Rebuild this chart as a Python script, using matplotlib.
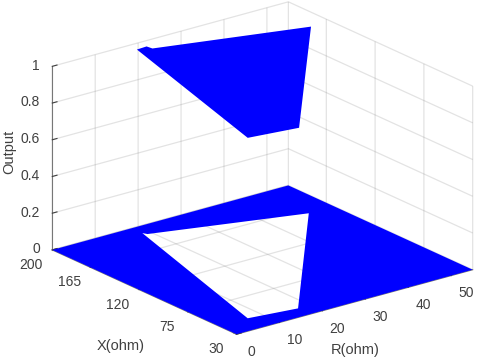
import numpy as np
import matplotlib
matplotlib.use('Agg')
import matplotlib.pyplot as plt
from mpl_toolkits.mplot3d.art3d import Poly3DCollection

plt.rcParams['font.family'] = ['Liberation Sans', 'DejaVu Sans']

# values
r_ticks = [0, 10, 20, 30, 40, 50]
x_ticks = [30, 75, 120, 165, 200]
z_ticks = [0, 0.2, 0.4, 0.6, 0.8, 1]
z_labels = ['0', '0.2', '0.4', '0.6', '0.8', '1']

# region where output = 1
r_top = [17.7, 20.1, 20.3, 50.4, 16.4, 5.7]
x_top = [192.0, 192.6, 188.0, 160.9, 37.3, 42.3]

# region where output = 0 is the whole plane minus this hole
r_hole = [18.5, 18.95, 49.1, 17.2, 6.7]
x_hole = [190.2, 187.2, 157.8, 41.4, 46.3]
r_plane = [0, 55, 55, 0]
x_plane = [200, 200, 30, 30]

grey = '#404040'
gridc = (0.5, 0.5, 0.5, 0.22)

side = 361
cx, cy = 262.5 - 4.9, 361 - 168 - 4.9   # pixel centre of the box

fig = plt.figure(figsize=(4.8, 3.61), dpi=100)
ax = fig.add_axes([(cx - side / 2) / 480, (cy - side / 2) / 361, side / 480, side / 361], projection='3d')
ax.set_proj_type('ortho')
ax.view_init(elev=20.7, azim=-127.7)
ax.set_box_aspect((298, 301, 196), zoom=1.2567)

# floor as one keyhole polygon, so the hole stays open
rf = r_plane + [r_plane[0]] + [r_hole[0]] + r_hole[::-1] + [r_plane[0]]
xf = x_plane + [x_plane[0]] + [x_hole[0]] + x_hole[::-1] + [x_plane[0]]
floor = list(zip(rf, xf, np.zeros(len(rf))))
top = list(zip(r_top, x_top, np.ones(len(r_top))))
ax.add_collection3d(Poly3DCollection([floor], facecolor='#0000ff', edgecolor='none', clip_on=False))
ax.add_collection3d(Poly3DCollection([top], facecolor='#0000ff', edgecolor='none', clip_on=False))

ax.set_xlim(0, 55, view_margin=0)
ax.set_ylim(30, 200, view_margin=0)
ax.set_zlim(0, 1, view_margin=0)

ax.set_xticks(r_ticks)
ax.set_yticks(x_ticks)
ax.set_zticks(z_ticks)
ax.set_zticklabels(z_labels)

for axis in (ax.xaxis, ax.yaxis, ax.zaxis):
    axis.set_pane_color((1, 1, 1, 0))
    axis.pane.set_edgecolor(gridc)
    axis.pane.set_linewidth(0.9)
    axis._axinfo['grid'].update(color=gridc, linewidth=0.9)
    axis._axinfo['tick'].update(inward_factor=0, outward_factor=0.25)
    axis.line.set_color('#777777')
ax.tick_params(axis='both', labelsize=10, labelcolor=grey, color=grey, width=0.7)
ax.tick_params(axis='z', labelsize=10, labelcolor=grey, color=grey, width=0.7, pad=-4)
ax.tick_params(axis='x', pad=3)
ax.tick_params(axis='y', pad=4)

for t in ax.get_xticklabels():
    t.set_va('baseline')
for t in ax.get_yticklabels():
    t.set_va('bottom')
for t in ax.get_zticklabels():
    t.set_va('center')
    t.set_ha('right')

# axis labels placed by hand, mplot3d can't put them where they are in the original
fig.text(355 / 480, 1 - 350 / 361, 'R(ohm)', fontsize=10.5, color=grey, ha='center', va='center')
fig.text(121 / 480, 1 - 346 / 361, 'X(ohm)', fontsize=10.5, color=grey, ha='center', va='center')
fig.text(9 / 480, 1 - 152 / 361, 'Output', fontsize=10.5, color=grey, ha='center', va='center', rotation=90)

fig.savefig('out.png', dpi=100)
